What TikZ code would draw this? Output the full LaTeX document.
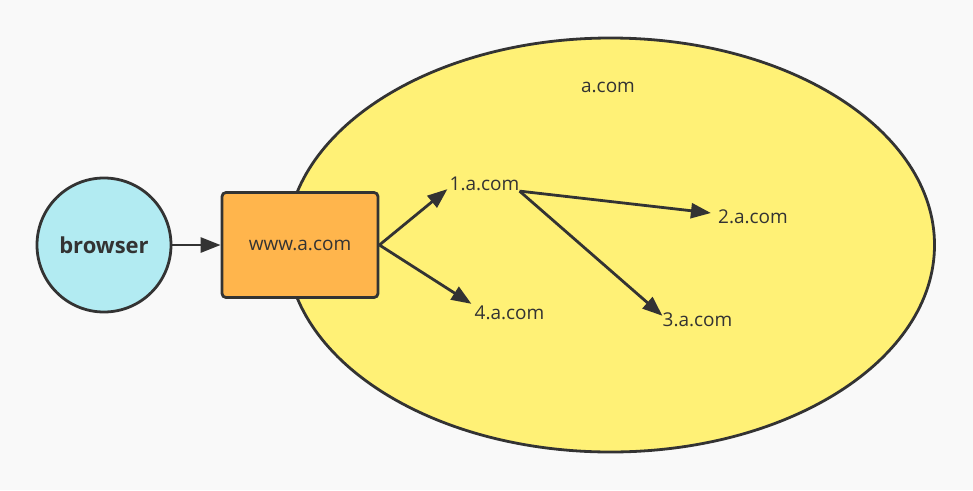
\documentclass[tikz,border=0pt]{standalone}
\usepackage{fontspec}
\setmainfont{Open Sans}
\usetikzlibrary{arrows.meta,shapes.geometric}
\definecolor{bg}{HTML}{F9F9F9}
\definecolor{ink}{HTML}{333333}
\definecolor{cyanfill}{HTML}{B2EBF2}
\definecolor{orangefill}{HTML}{FFB54C}
\definecolor{yellowfill}{HTML}{FFF176}
\tikzset{
  conn/.style={draw=ink, line width=2.8pt, -{Triangle[length=20pt,width=15pt]}},
  lbl/.style={inner sep=0pt, text=ink, font=\fontsize{19pt}{21pt}\selectfont},
}
\begin{document}
\begin{tikzpicture}[x=1pt,y=-1pt]
\fill[bg] (0,0) rectangle (973,490);
\useasboundingbox (0,0) rectangle (973,490);
\node[ellipse, draw=ink, line width=2.8pt, fill=yellowfill, minimum width=648pt, minimum height=414pt, inner sep=0pt] (dom) at (610.5,245) {};
\node[lbl] (title) at (608,87) {a.com};
\node[circle, draw=ink, line width=2.8pt, fill=cyanfill, minimum size=134pt, inner sep=0pt, text=ink, font=\bfseries\fontsize{22pt}{24pt}\selectfont] (browser) at (104,245) {browser};
\node[rectangle, rounded corners=4pt, draw=ink, line width=2.8pt, fill=orangefill, minimum width=156pt, minimum height=105pt, inner sep=0pt, text=ink, font=\fontsize{19pt}{21pt}\selectfont] (www) at (300,245) {www.a.com};
\node[lbl] (n1) at (484.5,184) {1.a.com};
\node[lbl] (n2) at (753,217) {2.a.com};
\node[lbl] (n3) at (697.5,320) {3.a.com};
\node[lbl] (n4) at (509.5,313) {4.a.com};
\draw[conn] (browser.east) -- (www.west);
\draw[conn] (www.east) -- ([shift={(-2,-2)}]n1.south west);
\draw[conn] (www.east) -- ([shift={(-3,-2)}]n4.north west);
\draw[conn] (n1.south east) -- ([shift={(-7,-4)}]n2.west);
\draw[conn] (n1.south east) -- ([shift={(0,3)}]n3.north west);
\end{tikzpicture}
\end{document}
